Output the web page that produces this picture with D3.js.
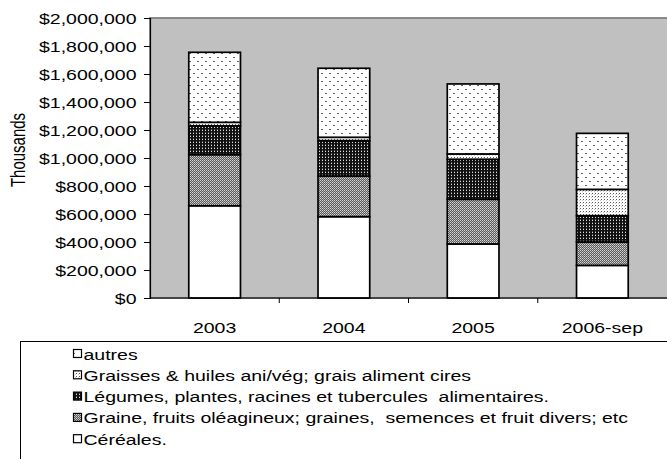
<!DOCTYPE html>
<html><head><meta charset="utf-8">
<script src="https://cdn.jsdelivr.net/npm/d3@7"></script>
<style>body{margin:0;background:#fff}svg{display:block;font-family:"Liberation Sans",Arial,sans-serif}text{white-space:pre}</style>
</head><body><svg id="c" width="667" height="459"></svg>
<script>
const categories = ["2003","2004","2005","2006-sep"];
const seriesNames = ["Céréales.","Graine, fruits oléagineux; graines,  semences et fruit divers; etc","Légumes, plantes, racines et tubercules  alimentaires.","Graisses & huiles ani/vég; grais aliment cires","autres"];
const cereales = [659000, 581000, 386000, 233000];
const graine   = [365000, 290000, 319000, 167000];
const legumes  = [206000, 253000, 286000, 188000];
const graisses = [25000, 24000, 38000, 188000];
const autres   = [500000, 493000, 500000, 400000];
const yTicks = [0,200000,400000,600000,800000,1000000,1200000,1400000,1600000,1800000,2000000];
const yTitle = "Thousands";

const FS = 15, SX = 1.3;
const svg = d3.select("#c");
const defs = svg.append("defs");
function pat(id, w, h, bg, dots){
  const p = defs.append("pattern").attr("id",id).attr("width",w).attr("height",h).attr("patternUnits","userSpaceOnUse");
  p.append("rect").attr("width",w).attr("height",h).attr("fill",bg);
  dots.forEach(d=>p.append("rect").attr("x",d[0]).attr("y",d[1]).attr("width",d[2]).attr("height",d[3]).attr("fill",d[4]));
}
pat("p0",4,4,"#fff",[]);
pat("p1",2,2,"#5a5a5a",[[0,0,1,1,"#d8d8d8"],[1,1,1,1,"#b0b0b0"]]);
pat("p2",3,3,"#111",[[1,1,1,1,"#e0e0e0"],[1,0,1,1,"#555"]]);
pat("p3",3,3,"#fff",[[1,1,1,1,"#5a5a5a"],[0,2,1,1,"#c8c8c8"]]);
pat("p4",8,8,"#fff",[[1,1,2,1,"#606060"],[5,5,2,1,"#606060"]]);
const fills = ["url(#p0)","url(#p1)","url(#p2)","url(#p3)","url(#p4)"];

const pL=150, pR=667, pT=18, pB=298;
const x = d3.scaleBand().domain(categories).range([pL,pR]).paddingInner(0.6).paddingOuter(0.3);
const xb = d3.scaleBand().domain(categories).range([pL,pR]);
const y = d3.scaleLinear().domain([0,2000000]).range([pB,pT]);

svg.append("rect").attr("x",pL).attr("y",pT).attr("width",pR-pL+2).attr("height",pB-pT)
  .attr("fill","#c0c0c0").attr("stroke","#808080").attr("stroke-width",1.8);

const rows = categories.map((c,i)=>({cat:c, v:[cereales[i],graine[i],legumes[i],graisses[i],autres[i]]}));
const stack = d3.stack().keys([0,1,2,3,4]).value((d,k)=>d.v[k])(rows);
stack.forEach((s,k)=>{
  svg.append("g").selectAll("rect").data(s).join("rect")
    .attr("x",d=>x(d.data.cat)).attr("width",x.bandwidth())
    .attr("y",d=>y(d[1])).attr("height",d=>y(d[0])-y(d[1]))
    .attr("fill",fills[k]).attr("stroke","#000").attr("stroke-width",1.7);
});

const fmt = d=>"$"+d3.format(",")(d);
const ya = svg.append("g").attr("transform",`translate(${pL},0)`)
  .call(d3.axisLeft(y).tickValues(yTicks).tickFormat(fmt).tickSize(6));
ya.select(".domain").attr("stroke","#000").attr("stroke-width",1.2);
ya.selectAll("text").attr("x",0).attr("dy","0.35em").attr("transform",`translate(-13.5,0) scale(${SX},1)`)
  .attr("font-size",FS).attr("fill","#000").attr("font-family","Liberation Sans, Arial");

const xa = svg.append("g").attr("transform",`translate(0,${pB})`)
  .call(d3.axisBottom(xb).tickSize(0));
xa.select(".domain").remove();
xa.selectAll("text").attr("y",0).attr("dy",0).attr("transform",`translate(0,35) scale(${SX},1)`)
  .attr("font-size",FS).attr("fill","#000").attr("font-family","Liberation Sans, Arial");
svg.append("line").attr("x1",pL).attr("x2",pR).attr("y1",pB).attr("y2",pB).attr("stroke","#000").attr("stroke-width",1.2);
categories.slice(1).forEach(c=>{
  svg.append("line").attr("x1",xb(c)).attr("x2",xb(c)).attr("y1",pB).attr("y2",pB+5).attr("stroke","#000");
});

svg.append("text").attr("transform",`translate(24.5,150) scale(${SX},1) rotate(-90)`).attr("text-anchor","middle")
  .attr("font-size",FS).text(yTitle);

svg.append("rect").attr("x",20.5).attr("y",341.5).attr("width",660).attr("height",130).attr("fill","#fff").attr("stroke","#000");
const legOrder = [4,3,2,1,0];
legOrder.forEach((k,i)=>{
  const yy = 359.5 + i*21.3;
  svg.append("rect").attr("x",73.5).attr("y",yy-10).attr("width",8).attr("height",8).attr("fill",fills[k]).attr("stroke","#000").attr("stroke-width",1.2);
  svg.append("text").attr("transform",`translate(83.5,${yy}) scale(${SX},1)`).attr("font-size",FS).text(seriesNames[k]);
});
</script></body></html>
